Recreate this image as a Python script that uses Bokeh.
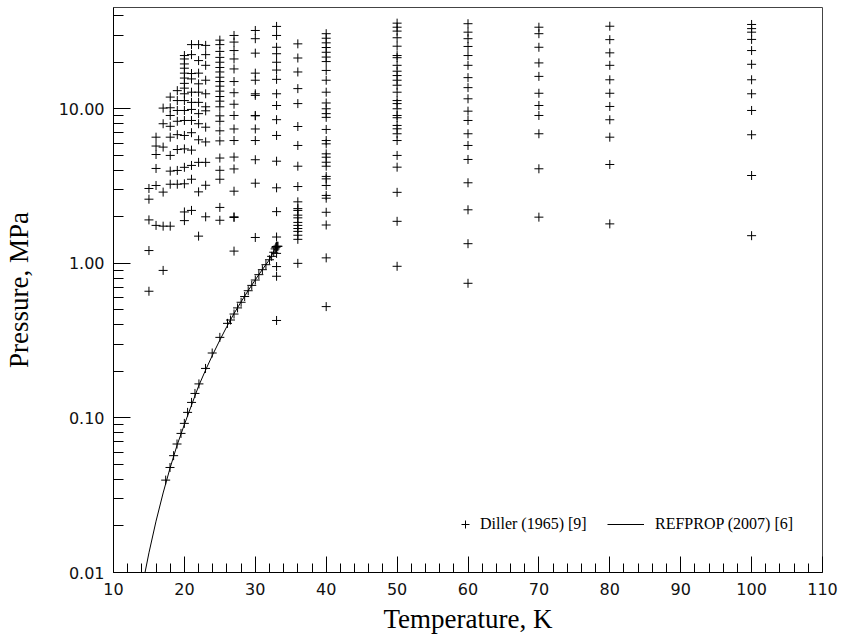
from bokeh.plotting import figure
from bokeh.models import FixedTicker, PrintfTickFormatter, Legend, LegendItem, ColumnDataSource
from bokeh.embed import file_html
from bokeh.resources import INLINE

# ---------------- data ----------------
isotherm_T = [15, 16, 17, 18, 19, 20, 21, 22, 23, 25, 27, 30, 33, 36, 40, 50, 60, 70, 80, 100]

p_T15 = [3.05, 2.60, 1.91, 1.21, 0.66]
p_T16 = [6.55, 5.74, 5.06, 4.11, 3.19, 1.76]
p_T17 = [10.1, 8.0, 5.65, 2.89, 1.74, 0.90]
p_T18 = [11.9, 10.15, 9.05, 7.7, 6.55, 4.99, 3.95, 3.25, 1.74]
p_T19 = [13.1, 11.3, 9.75, 8.3, 6.8, 5.45, 3.99, 3.25]
p_T20 = [22.1, 21.0, 19.5, 18.3, 17.0, 15.8, 14.6, 13.6, 12.5, 11.3, 9.75, 8.4,
         6.72, 5.5, 4.18, 3.27, 2.15, 1.89]
p_T21 = [26.0, 22.4, 16.9, 15.6, 12.8, 11.0, 9.9, 8.4, 7.0, 5.4, 4.3, 3.5, 2.2]
p_T22 = [26.0, 20.5, 17.0, 14.5, 12.8, 11.0, 9.3, 8.0, 6.3, 4.5, 2.9, 1.5]
p_T23 = [25.7, 22.4, 19.1, 15.3, 12.5, 10.3, 9.7, 7.6, 6.1, 4.5, 3.2, 2.0]
p_T25 = [27.8, 26.0, 23.5, 21.5, 20.0, 18.5, 17.3, 16.0, 15.0, 14.0, 13.0, 12.0,
         11.2, 10.3, 9.0, 8.3, 7.2, 6.2, 4.8, 4.0, 3.5, 2.3, 1.9]
p_T27 = [29.8, 27.0, 23.8, 21.0, 18.1, 15.0, 12.7, 10.7, 9.05, 7.4, 6.23, 4.87,
         4.08, 2.93, 2.0, 1.98, 1.2]
p_T30 = [32.1, 28.4, 22.9, 17.0, 15.3, 12.5, 12.2, 9.05, 9.0, 7.4, 6.23, 4.68, 3.3, 1.47]
p_T33 = [34.1, 29.8, 25.0, 22.7, 20.0, 17.8, 15.5, 12.5, 10.5, 8.5, 6.72, 4.58,
         3.08, 2.16, 1.48, 1.16, 0.953, 0.825, 0.427]
p_T36 = [26.3, 21.3, 17.3, 13.5, 10.8, 7.68, 5.79, 4.25, 3.14, 2.5, 2.26, 2.2,
         2.05, 1.97, 1.84, 1.76, 1.68, 1.61, 1.52, 1.43, 1.0]
p_T40 = [30.6, 28.6, 26.7, 24.9, 23.2, 21.6, 20.2, 17.7, 15.3, 12.8, 10.9, 10.0,
         9.3, 8.8, 7.35, 6.23, 5.93, 5.11, 4.86, 4.51, 4.25, 3.65, 3.52, 3.19,
         2.75, 2.64, 2.14, 1.77, 1.085, 0.525]
p_T50 = [35.8, 33.7, 31.8, 28.8, 25.4, 22.1, 21.4, 19.1, 17.5, 16.4, 15.3, 14.2,
         12.8, 11.3, 10.8, 10.0, 9.05, 8.75, 7.8, 7.42, 6.89, 6.23, 4.99, 4.19,
         2.88, 1.87, 0.957]
p_T60 = [35.5, 31.3, 28.4, 25.3, 22.1, 19.1, 15.9, 13.7, 11.6, 9.65, 8.4, 6.89,
         5.79, 4.7, 3.32, 2.22, 1.34, 0.743]
p_T70 = [33.7, 30.6, 25.0, 19.8, 16.2, 12.6, 10.5, 9.05, 6.89, 4.09, 1.99]
p_T80 = [34.2, 28.0, 23.0, 19.1, 15.4, 12.6, 10.35, 8.49, 6.55, 4.36, 1.80]
p_T100 = [35.1, 33.0, 31.3, 28.1, 23.8, 19.4, 15.4, 12.5, 9.75, 6.79, 3.70, 1.51]

isotherm_P = [p_T15, p_T16, p_T17, p_T18, p_T19, p_T20, p_T21, p_T22, p_T23, p_T25,
              p_T27, p_T30, p_T33, p_T36, p_T40, p_T50, p_T60, p_T70, p_T80, p_T100]

# Diller saturation-boundary points
sat_T = [17.36, 17.97, 18.48, 18.96, 19.52, 19.99, 20.45, 21.01, 21.49, 22.05,
         22.98, 23.92, 25.0, 26.08, 26.5, 27.0, 27.5, 28.0, 28.5, 29.0, 29.5,
         30.0, 30.5, 31.0, 31.5, 32.0, 32.3, 32.6, 32.8, 32.9, 32.95, 33.0,
         33.05, 33.1, 33.2]
sat_P = [0.0396, 0.0478, 0.057, 0.0678, 0.0794, 0.0922, 0.1086, 0.126, 0.144, 0.166,
         0.209, 0.263, 0.332, 0.409, 0.43, 0.47, 0.515, 0.56, 0.61, 0.665, 0.72,
         0.78, 0.845, 0.91, 0.98, 1.055, 1.11, 1.18, 1.24, 1.27, 1.28, 1.285,
         1.285, 1.29, 1.29]

# REFPROP saturation curve
ref_T = [14.0, 15.0, 16.0, 17.0, 18.0, 19.0, 20.0, 21.0, 22.0, 23.0, 24.0, 25.0,
         26.0, 27.0, 28.0, 29.0, 30.0, 31.0, 32.0, 32.94]
ref_P = [0.0079, 0.0134, 0.0215, 0.0327, 0.0478, 0.0673, 0.0907, 0.1208, 0.1606,
         0.2045, 0.2571, 0.3186, 0.3912, 0.4734, 0.5640, 0.6667, 0.7829, 0.9120,
         1.0565, 1.2858]

x_major_ticks = [10, 20, 30, 40, 50, 60, 70, 80, 90, 100, 110]
y_major_ticks = [0.01, 0.1, 1.0, 10.0]

labels = ["Diller (1965) [9]", "REFPROP (2007) [6]"]
x_title = "Temperature, K"
y_title = "Pressure, MPa"

# ---------------- build ----------------
diller_T, diller_P = [], []
for t, plist in zip(isotherm_T, isotherm_P):
    diller_T.extend([t] * len(plist))
    diller_P.extend(plist)
diller_T.extend(sat_T)
diller_P.extend(sat_P)

src_d = ColumnDataSource(dict(T=diller_T, P=diller_P))
src_r = ColumnDataSource(dict(T=ref_T, P=ref_P))

W, H = 840, 638
p = figure(width=W, height=H, x_range=(10, 110), y_range=(0.01, 45.2),
           y_axis_type="log", output_backend="svg", toolbar_location=None,
           min_border_left=111, min_border_right=W - 822, min_border_top=7,
           min_border_bottom=H - 572)

p.background_fill_color = "white"
p.border_fill_color = "white"
p.outline_line_color = "#444444"
p.outline_line_width = 1
p.xgrid.visible = False
p.ygrid.visible = False

r_line = p.line("T", "P", source=src_r, line_color="black", line_width=1)
r_pts = p.scatter("T", "P", source=src_d, marker="cross", size=9,
                  line_color="black", line_width=1)

x_minor = [v for v in range(10, 111, 2) if v % 10 != 0]
y_minor = []
for dec in [0.01, 0.1, 1.0, 10.0]:
    for k in range(2, 10):
        y_minor.append(round(dec * k, 6))

p.xaxis.ticker = FixedTicker(ticks=x_major_ticks, minor_ticks=x_minor)
p.yaxis.ticker = FixedTicker(ticks=y_major_ticks, minor_ticks=y_minor)
p.xaxis.formatter = PrintfTickFormatter(format="%d")
p.yaxis.formatter = PrintfTickFormatter(format="%.2f")

for ax in (p.xaxis[0], p.yaxis[0]):
    ax.axis_line_color = "black"
    ax.axis_line_width = 1
    ax.major_tick_line_color = "black"
    ax.minor_tick_line_color = "black"
    ax.major_tick_out = 0
    ax.minor_tick_out = 0
    ax.major_label_text_font = "DejaVu Sans"
    ax.major_label_text_font_size = "16px"
    ax.major_label_text_color = "#111111"
    ax.axis_label_text_font = "Liberation Serif"
    ax.axis_label_text_font_size = "27px"
    ax.axis_label_text_font_style = "normal"
    ax.axis_label_text_color = "black"

p.xaxis.major_tick_in = 16
p.xaxis.minor_tick_in = 9
p.yaxis.major_tick_in = 17
p.yaxis.minor_tick_in = 10
p.xaxis.major_label_standoff = 10
p.yaxis.major_label_standoff = 9
p.xaxis.axis_label_standoff = 6
p.yaxis.axis_label_standoff = 22
p.xaxis.axis_label = x_title
p.yaxis.axis_label = y_title

common = dict(orientation="horizontal", padding=0, margin=0, spacing=0,
              border_line_color=None, background_fill_alpha=0,
              label_text_font="Liberation Serif", label_text_font_size="16px",
              label_text_color="black", glyph_height=20, label_height=20)
leg1 = Legend(items=[LegendItem(label=labels[0], renderers=[r_pts])],
              location=(342, 38), glyph_width=20, label_standoff=5, **common)
leg2 = Legend(items=[LegendItem(label=labels[1], renderers=[r_line])],
              location=(494, 38), glyph_width=37, label_standoff=11, **common)
p.add_layout(leg1)
p.add_layout(leg2)

open("out.html", "w").write(file_html(p, INLINE))
